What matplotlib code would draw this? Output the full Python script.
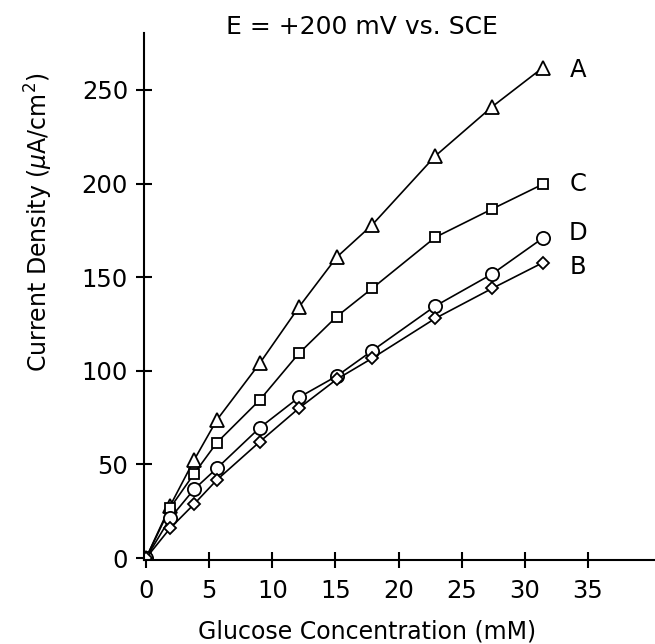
import numpy as np
import matplotlib
matplotlib.use("Agg")
import matplotlib.pyplot as plt

# glucose concentration (mM)
conc = [0, 1.9, 3.8, 5.6, 9.0, 12.1, 15.1, 17.9, 22.9, 27.4, 31.4]

# current density (uA/cm2) for each electrode
curve_a = [0, 27.8, 52.3, 73.7, 104, 134, 160.7, 177.9, 214.7, 241, 261.8]
curve_c = [0, 26.7, 45.0, 61.6, 84.4, 109.3, 129, 144, 171.3, 186.4, 199.6]
curve_d = [0, 21.2, 36.7, 47.9, 69.6, 85.8, 97.2, 110.7, 134.6, 151.7, 170.8]
curve_b = [0, 15.9, 28.8, 41.7, 62.1, 80, 95.5, 106.7, 128, 144, 157.7]

labels = ["A", "C", "D", "B"]
label_y = [260.7, 200, 173.4, 155.6]

plt.rcParams['font.family'] = ['DejaVu Sans']
fig = plt.figure(figsize=(6.55, 6.44), dpi=100)
ax = fig.add_axes([144/655, 1 - 560/644, 1 - 144/655, (560 - 33)/644])

kw = dict(color='k', lw=1.2, mfc='white', mec='k', mew=1.3)
ax.plot(conc, curve_a, marker='^', ms=9.5, **kw)
ax.plot(conc, curve_c, marker='s', ms=7.5, **kw)
ax.plot(conc, curve_d, marker='o', ms=9.5, **kw)
ax.plot(conc, curve_b, marker='D', ms=6.5, **kw)

for lab, yy in zip(labels, label_y):
    ax.text(34.2, yy, lab, fontsize=17.5, ha='center', va='center')

ax.set_xlim(-0.16, 40.3)
ax.set_ylim(-1, 280.4)
ax.set_xticks([0, 5, 10, 15, 20, 25, 30, 35])
ax.set_yticks([0, 50, 100, 150, 200, 250])

for s in ['top', 'right']:
    ax.spines[s].set_visible(False)
for s in ['left', 'bottom']:
    ax.spines[s].set_linewidth(1.5)

ax.tick_params(axis='both', direction='inout', length=11, width=1.5, labelsize=17.5)
ax.tick_params(axis='y', pad=6)
ax.tick_params(axis='x', pad=8)

ax.set_xlabel("Glucose Concentration (mM)", fontsize=17)
ax.xaxis.set_label_coords((367 - 144)/511, -(619 - 560)/527)
ax.set_ylabel(r"Current Density ($\mu$A/cm$^2$)", fontsize=17)
ax.yaxis.set_label_coords((55 - 144)/511, (560 - 222)/527)

fig.text(362/655, 1 - 27/644, "E = +200 mV vs. SCE", fontsize=18, ha='center', va='center')

fig.savefig("out.png", dpi=100)
